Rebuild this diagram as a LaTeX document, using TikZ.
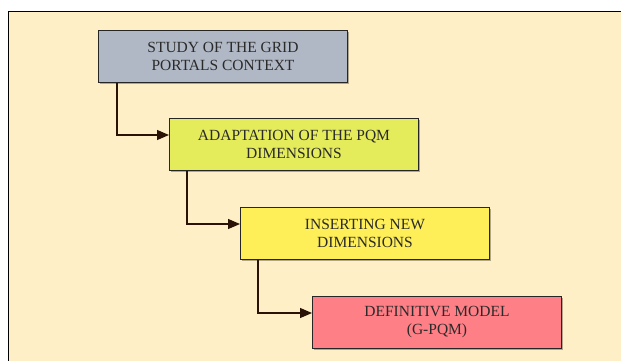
\documentclass[tikz,border=0pt]{standalone}
\usepackage{fontspec}
\setmainfont{Liberation Serif}
\usetikzlibrary{arrows.meta,calc,shadows}
\definecolor{cream}{HTML}{FFEFC6}
\definecolor{cgray}{HTML}{B1B8C5}
\definecolor{cgreen}{HTML}{E5EC5C}
\definecolor{cyellow}{HTML}{FEEE58}
\definecolor{cpink}{HTML}{FF7F87}
\definecolor{connc}{HTML}{2A1206}
\definecolor{txtc}{HTML}{2A2A2A}
\begin{document}
\begin{tikzpicture}[x=1pt,y=-1pt,
  box/.style={draw=black!85, line width=1pt, minimum width=249pt, minimum height=52pt,
    inner sep=0pt, align=center, anchor=north west, text=txtc,
    font=\fontsize{15.5}{18}\selectfont,
    drop shadow={shadow xshift=1.5pt,shadow yshift=-1.5pt,fill=black,opacity=0.3}},
  conn/.style={draw=connc, line width=1.2pt, -{Triangle[length=12pt,width=10pt]}}]
\useasboundingbox (0,0) rectangle (621,360);
\fill[white] (0,0) rectangle (621,360);
\fill[cream] (8,11) rectangle (623,362);
\draw[line width=1pt] (8,362) -- (8,11) -- (623,11);
\node[box, fill=cgray]   (b1) at (98,30)  {STUDY OF THE GRID\\PORTALS CONTEXT};
\node[box, fill=cgreen]  (b2) at (169,118) {ADAPTATION OF THE PQM\\DIMENSIONS};
\node[box, fill=cyellow] (b3) at (240,207) {INSERTING NEW\\DIMENSIONS};
\node[box, fill=cpink]   (b4) at (312,296) {DEFINITIVE MODEL\\(G-PQM)};
\draw[conn] ($(b1.south west)+(19,0)$) |- ($(b2.north west)+(0,17)$);
\draw[conn] ($(b2.south west)+(18,0)$) |- ($(b3.north west)+(0,17)$);
\draw[conn] ($(b3.south west)+(18,0)$) |- ($(b4.north west)+(0,17)$);
\end{tikzpicture}
\end{document}
